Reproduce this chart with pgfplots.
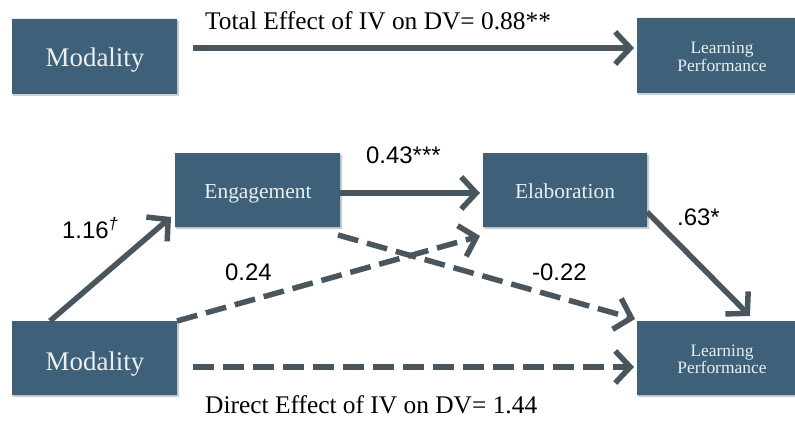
\documentclass[border=0pt]{standalone}
\usepackage{pgfplots}
\pgfplotsset{compat=1.18}
\usepackage{fontspec}
\setmainfont{Liberation Serif}
\newfontfamily\sansf{Liberation Sans}
\usetikzlibrary{arrows.meta}
\definecolor{boxc}{RGB}{62,96,120}
\definecolor{arrc}{RGB}{74,86,94}
\definecolor{boxt}{RGB}{234,239,242}
\definecolor{shad}{RGB}{205,208,210}
\tikzset{
  boxsh/.style={fill=shad, draw=none, mark=none},
  box/.style={fill=boxc, draw=none, mark=none},
  arr/.style={draw=arrc, line width=5.5bp, mark=none,
     -{Straight Barb[length=15bp, width=32bp]}},
  darr/.style={arr, dash pattern=on 21bp off 9bp},
  lab/.style={font=\sansf\fontsize{24}{26}\selectfont, anchor=base west, text=black, inner sep=0pt},
  ttl/.style={font=\fontsize{25.5}{27}\selectfont, anchor=base west, text=black, inner sep=0pt},
  bx/.style={font=\fontsize{#1}{#1}\selectfont, text=boxt, anchor=base, inner sep=0pt},
}
\begin{document}
\begin{tikzpicture}
\begin{axis}[
  scale only axis, width=795bp, height=421bp,
  xmin=0, xmax=795, ymin=0, ymax=421, y dir=reverse,
  hide axis, clip=false,
]
\addplot[draw=none, mark=none, forget plot] coordinates {(0,0) (795,421)};
% shadows
\addplot[boxsh] coordinates {(13,21) (179,21) (179,96) (13,96) (13,21)};
\addplot[boxsh] coordinates {(638,20) (795,20) (795,95) (638,95) (638,20)};
\addplot[boxsh] coordinates {(176,155) (342,155) (342,229) (176,229) (176,155)};
\addplot[boxsh] coordinates {(484,155) (649,155) (649,229) (484,229) (484,155)};
\addplot[boxsh] coordinates {(13,323) (179,323) (179,397) (13,397) (13,323)};
\addplot[boxsh] coordinates {(638,323) (795,323) (795,397) (638,397) (638,323)};
% boxes
\addplot[box] coordinates {(12,19) (177,19) (177,94) (12,94) (12,19)};
\addplot[box] coordinates {(637,18) (795,18) (795,93) (637,93) (637,18)};
\addplot[box] coordinates {(175,153) (340,153) (340,227) (175,227) (175,153)};
\addplot[box] coordinates {(483,153) (647,153) (647,227) (483,227) (483,153)};
\addplot[box] coordinates {(12,321) (177,321) (177,395) (12,395) (12,321)};
\addplot[box] coordinates {(637,321) (795,321) (795,395) (637,395) (637,321)};
% arrows
\addplot[arr] coordinates {(193,48) (634,48)};
\addplot[arr] coordinates {(340,193) (480,193)};
\addplot[arr] coordinates {(50,321) (171,217)};
\addplot[darr] coordinates {(177,321) (480,236)};
\addplot[darr] coordinates {(338,235) (635,319)};
\addplot[arr] coordinates {(647,212) (750,316)};
\addplot[darr] coordinates {(193,367) (634,367)};
% texts
\node[ttl] at (axis cs:205,30) {Total Effect of IV on DV= 0.88**};
\node[ttl] at (axis cs:205,413) {Direct Effect of IV on DV= 1.44};
\node[lab] at (axis cs:366,163) {0.43***};
\node[lab] at (axis cs:62,238) {1.16\textsuperscript{\itshape †}};
\node[lab] at (axis cs:225,280) {0.24};
\node[lab] at (axis cs:532,280) {-0.22};
\node[lab] at (axis cs:677,225) {.63*};
\node[bx=27] at (axis cs:95,67) {Modality};
\node[bx=27] at (axis cs:95,370) {Modality};
\node[bx=21.5] at (axis cs:258,198) {Engagement};
\node[bx=21.5] at (axis cs:565,198) {Elaboration};
\node[bx=17.5] at (axis cs:722,54) {Learning};
\node[bx=17.5] at (axis cs:722,72) {Performance};
\node[bx=17.5] at (axis cs:722,356) {Learning};
\node[bx=17.5] at (axis cs:722,373) {Performance};
\end{axis}
\end{tikzpicture}
\end{document}
